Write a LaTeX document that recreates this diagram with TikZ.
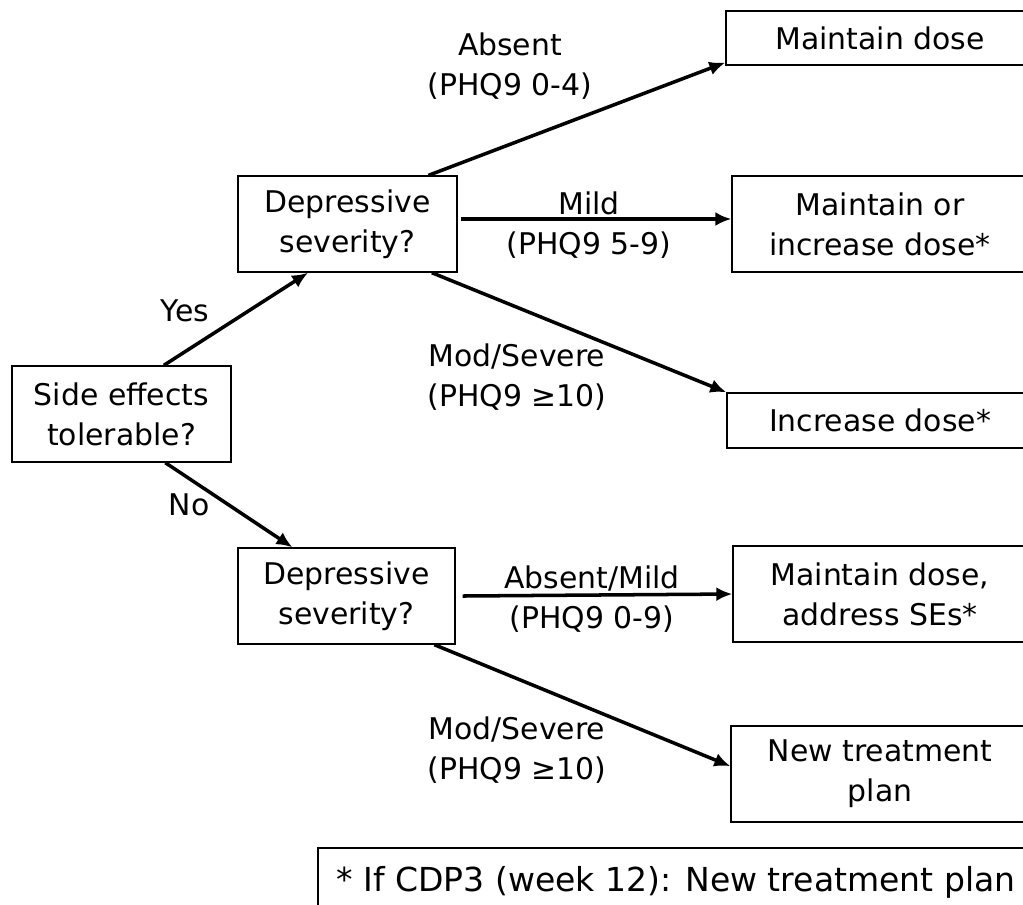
\documentclass[tikz,border=0pt]{standalone}
\usepackage{fontspec}
\setmainfont{DejaVu Sans}
\usetikzlibrary{arrows.meta}

\tikzset{
	box/.style={draw, line width=0.8pt, align=center, inner sep=0pt},
	lbl/.style={align=center, inner sep=0pt},
	arr/.style={line width=2pt, -{Latex[length=3.2mm,width=2.8mm]}},
}

\begin{document}
\begin{tikzpicture}[x=0.02cm, y=-0.02cm, font=\fontsize{17pt}{22.8pt}\selectfont]

	% page frame, boxes on the right run off the edge
	\useasboundingbox (0,0) rectangle (1023,904);
	\clip (0,0) rectangle (1023,904);

	% questions on the left
	\node[box, minimum width=4.38cm, minimum height=1.92cm] (side) at (121.5,414) {Side effects\\tolerable?};
	\node[box, minimum width=4.38cm, minimum height=1.92cm] (dep1) at (347.5,224) {Depressive\\severity?};
	\node[box, minimum width=4.34cm, minimum height=1.92cm] (dep2) at (346.5,596) {Depressive\\severity?};

	% outcomes on the right
	\node[box, minimum width=6.16cm, minimum height=1.08cm] (r1) at (880,38) {Maintain dose};
	\node[box, minimum width=5.92cm, minimum height=1.92cm] (r2) at (880,224) {Maintain or\\increase dose*};
	\node[box, minimum width=6.12cm, minimum height=1.1cm] (r3) at (880,420.5) {Increase dose*};
	\node[box, minimum width=5.88cm, minimum height=1.92cm] (r4) at (880,594) {Maintain dose,\\address SEs*};
	\node[box, minimum width=5.96cm, minimum height=1.92cm] (r5) at (880,774) {New treatment\\plan};

	% footnote
	\node[box, minimum width=14.32cm, minimum height=1.36cm, font=\fontsize{18.8pt}{22.8pt}\selectfont] (note) at (676,882) {* If CDP3 (week 12): New treatment plan};

	% branches
	\draw[arr] (side.49.5) -- (dep1.231);
	\draw[arr] (side.-48.8) -- (dep2.138.4);
	\draw[arr] (dep1.31) -- (r1.189);
	\draw[arr] ([xshift=0.06cm,yshift=0.1cm]dep1.east) -- ([yshift=0.1cm]r2.west);
	\draw[arr] (dep1.-30) -- (r3.north west);
	\draw[arr] ([xshift=0.14cm]dep2.east) -- (r4.west);
	\draw[arr] (dep2.-29.3) -- (r5.177);

	% labels on the branches
	\node[lbl] (yes) at (185,311) {Yes};
	\node[lbl] (no) at (189,505) {No};
	\node[lbl] (absent) at (510,66) {Absent\\(PHQ9 0-4)};
	\node[lbl] (mild) at (589,225) {Mild\\(PHQ9 5-9)};
	\node[lbl] (modsev) at (517,377) {Mod/Severe\\(PHQ9 ≥10)};
	\node[lbl] (absmild) at (592,599) {Absent/Mild\\(PHQ9 0-9)};
	\node[lbl] (modsevb) at (517,750) {Mod/Severe\\(PHQ9 ≥10)};

\end{tikzpicture}
\end{document}
